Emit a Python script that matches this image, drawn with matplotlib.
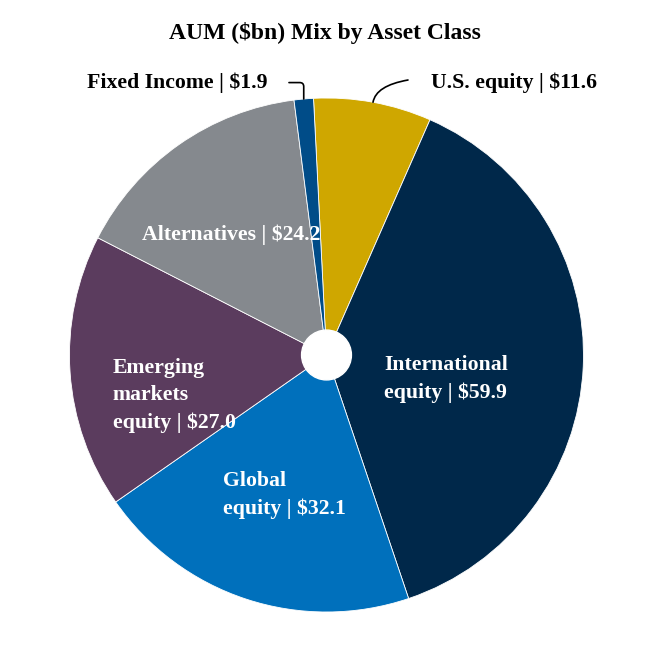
import numpy as np
import matplotlib
matplotlib.use("Agg")
import matplotlib.pyplot as plt

plt.rcParams['font.family'] = ['Liberation Serif', 'DejaVu Serif']

# AUM by asset class ($bn), clockwise from the top
classes = ["U.S. equity", "International equity", "Global equity",
           "Emerging markets equity", "Alternatives", "Fixed Income"]
aum = [11.6, 59.9, 32.1, 27.0, 24.2, 1.9]
colors = ["#CFA700", "#00284A", "#0070BC", "#5B3C5E", "#85898E", "#004C88"]

fig = plt.figure(figsize=(6.5, 6.5), dpi=100)
L = 1.25
w = 2 * L * 257 / 650
ax = fig.add_axes([326.5 / 650 - w / 2, 1 - 355 / 650 - w / 2, w, w])
ax.set_xlim(-L, L)
ax.set_ylim(-L, L)
ax.set_aspect('equal')
ax.axis('off')

start = 92.9
wedges, _ = ax.pie(aum, colors=colors, startangle=start, counterclock=False,
                   radius=1.0, wedgeprops=dict(edgecolor='white', linewidth=0.6))
ax.add_patch(plt.Circle((0, 0), 0.097, color='white', zorder=5))

fs = 15.7
txt = dict(color='white', fontsize=fs, fontweight='bold', ha='left',
           va='center', linespacing=1.46)
ax.text(0.224, -0.093, "International\nequity | $59.9", **txt)
ax.text(-0.404, -0.545, "Global\nequity | $32.1", **txt)
ax.text(-0.832, -0.158, "Emerging\nmarkets\nequity | $27.0", **txt)
ax.text(-0.719, 0.467, "Alternatives | $24.2", **txt)


def mid(wd):
    a = np.deg2rad((wd.theta1 + wd.theta2) / 2)
    return np.cos(a), np.sin(a)


# Fixed income leader
ax.annotate("", xy=mid(wedges[5]), xytext=(-0.146, 1.06),
            arrowprops=dict(arrowstyle='-', color='black', lw=1.2,
                            shrinkA=0, shrinkB=0,
                            connectionstyle="angle,angleA=0,angleB=90,rad=4"))
ax.text(-0.228, 1.058, "Fixed Income | $1.9", fontsize=fs, fontweight='bold',
        ha='right', va='center')

# U.S. equity leader
ax.annotate("", xy=mid(wedges[0]), xytext=(0.317, 1.07),
            arrowprops=dict(arrowstyle='-', color='black', lw=1.2,
                            shrinkA=0, shrinkB=0,
                            connectionstyle="angle3,angleA=10,angleB=80"))
ax.text(0.405, 1.058, "U.S. equity | $11.6", fontsize=fs, fontweight='bold',
        ha='left', va='center')

fig.text(325 / 650, 1 - 33 / 650, "AUM ($bn) Mix by Asset Class",
         fontsize=17, fontweight='bold', ha='center', va='center')

fig.savefig("out.png", dpi=100)
